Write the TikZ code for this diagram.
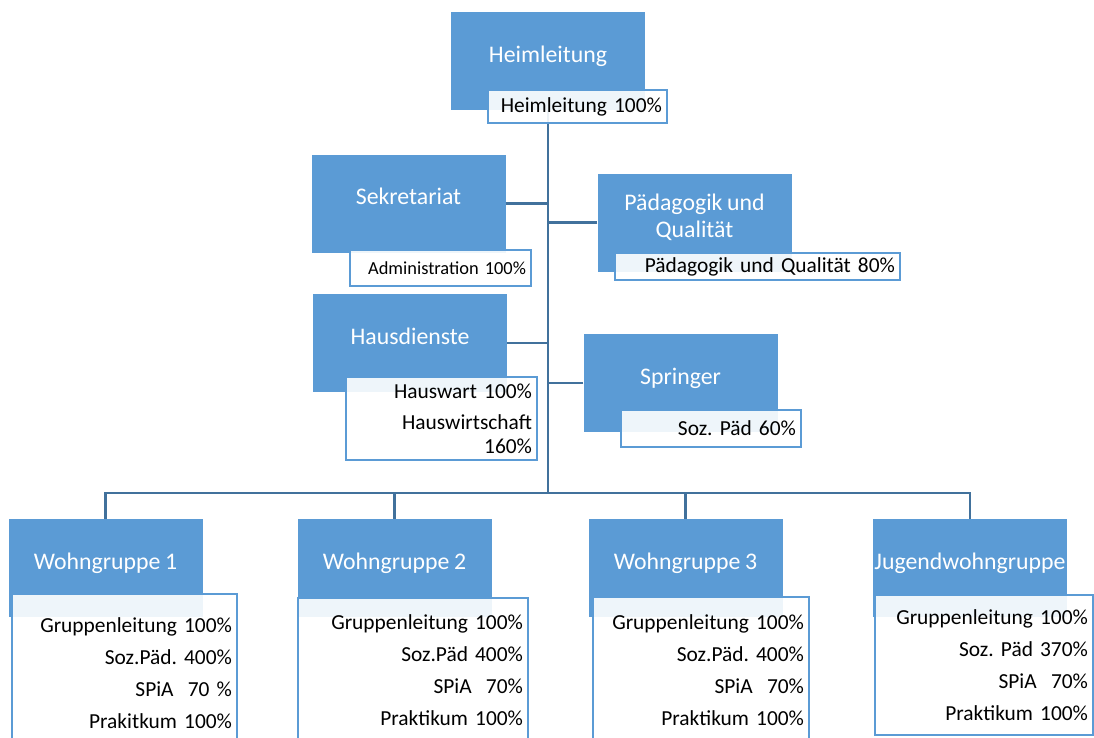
\documentclass[tikz,border=0pt]{standalone}
\usepackage{fontspec}
\setmainfont{Carlito}[WordSpace=0.85]
\usepackage{xcolor}
\usetikzlibrary{positioning}
\definecolor{boxblue}{HTML}{5B9BD5}
\definecolor{lineblue}{HTML}{41719C}
\frenchspacing
\tikzset{
  link/.style={draw=lineblue,line width=2.5pt},
  detail/.style={rectangle,draw=boxblue,line width=1.8pt,fill=white,fill opacity=0.9,text opacity=1,
    text=black,inner xsep=5pt,inner ysep=0pt,align=right,font=\fontsize{21.4}{32}\selectfont}
}

\begin{document}
\begin{tikzpicture}[x=1pt,y=-1pt]
    \useasboundingbox (0,0) rectangle (1094,737);
    \clip (0,0) rectangle (1094,737);
    \begin{scope}[every node/.style={rectangle,fill=boxblue,text=white,minimum width=194pt,minimum height=98pt,
        inner sep=0pt,align=center,font=\fontsize{23.8}{27}\selectfont,text height=16pt,text depth=14pt}]
      \node (heim) at (548,61) {Heimleitung};
      \node (sek) at (408.5,203.5) {Sekretariat};
      \node (paed)[text height=43pt,text depth=14pt] at (694.5,222.5) {Pädagogik und\\Qualität};
      \node (haus) at (410,343) {Hausdienste};
      \node (spring) at (680.5,383) {Springer};
      \node (wg1) at (105.5,568) {Wohngruppe 1};
      \node (wg2) at (394.5,568) {Wohngruppe 2};
      \node (wg3) at (685.5,568) {Wohngruppe 3};
      \node (jwg) at (970,568) {Jugendwohngruppe};
    \end{scope}
    \coordinate (bus) at (548,493);
    \draw[link] (heim) -- (bus);
    \draw[link] (sek) -- (sek -| bus);
    \draw[link] (paed) -- (paed -| bus);
    \draw[link] (haus) -- (haus -| bus);
    \draw[link] (spring) -- (spring -| bus);
    \foreach \g in {wg1,wg2,wg3,jwg}
      \draw[link] (\g) |- (bus);
    \begin{scope}[every node/.style={detail}]
      \node (heimd)[text width=169pt,minimum height=33pt] at (577.5,106.5) {Heimleitung 100\%};
      \node (sekd)[text width=171pt,minimum height=36pt,font=\fontsize{18.4}{22}\selectfont] at (440.5,268) {Administration 100\%};
      \node (paedd)[text width=275pt,minimum height=27pt] at (757.5,266.5) {Pädagogik und Qualität 80\%};
      \node (hausd)[text width=181pt,minimum height=83pt,font=\fontsize{21.4}{24}\selectfont] at (441.5,418.5)
        {Hauswart 100\%\\[7pt]Hauswirtschaft\\160\%};
      \node (springd)[text width=170pt,minimum height=37pt] at (711,428.5) {Soz. Päd 60\%};
      \node (wg1d)[text width=215pt,minimum height=158pt] at (124.5,673)
        {Gruppenleitung 100\%\\Soz.Päd. 400\%\\SPiA\ \ 70 \%\\Prakitkum 100\%};
      \node (wg2d)[text width=220pt,minimum height=144pt] at (413,670)
        {Gruppenleitung 100\%\\Soz.Päd 400\%\\SPiA\ \ 70\%\\Praktikum 100\%};
      \node (wg3d)[text width=206pt,minimum height=146pt] at (701,670)
        {Gruppenleitung 100\%\\Soz.Päd. 400\%\\SPiA\ \ 70\%\\Praktikum 100\%};
      \node (jwgd)[text width=208pt,minimum height=140pt] at (984,665)
        {Gruppenleitung 100\%\\Soz. Päd 370\%\\SPiA\ \ 70\%\\Praktikum 100\%};
    \end{scope}
\end{tikzpicture}
\end{document}
